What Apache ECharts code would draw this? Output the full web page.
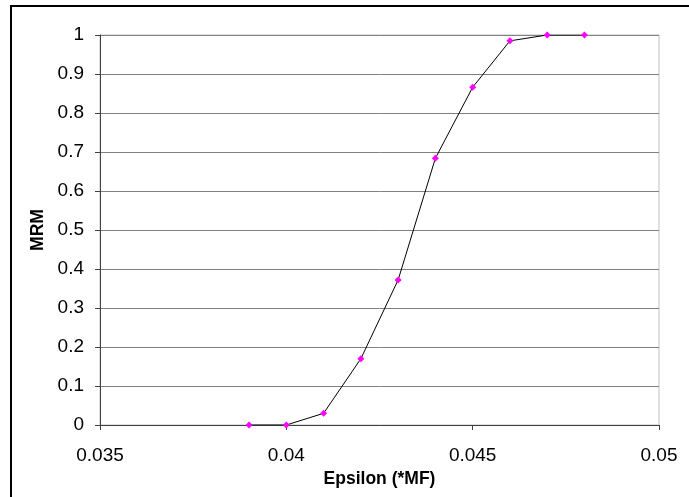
<!DOCTYPE html>
<html>
<head>
<meta charset="utf-8">
<script src="https://cdn.jsdelivr.net/npm/echarts@6/dist/echarts.min.js"></script>
<style>
  html, body { margin: 0; padding: 0; background: #fff; }
  #chart { width: 689px; height: 497px; }
</style>
</head>
<body>
<div id="chart"></div>
<script>
// Epsilon (*MF) values and the measured MRM at each one
const epsilon = [0.039, 0.040, 0.041, 0.042, 0.043, 0.044, 0.045, 0.046, 0.047, 0.048];
const mrm = [0, 0, 0.03, 0.17, 0.372, 0.684, 0.866, 0.985, 1, 1];

const xTicks = { min: 0.035, max: 0.05, step: 0.005 };
const yTicks = { min: 0, max: 1, step: 0.1 };

const points = epsilon.map((x, i) => [x, mrm[i]]);

const chart = echarts.init(document.getElementById('chart'), null, { renderer: 'canvas' });
const font = 'Arial, "Liberation Sans", sans-serif';

chart.setOption({
  animation: false,
  backgroundColor: '#ffffff',
  graphic: [{
    type: 'rect',
    shape: { x: 11, y: 6, width: 720, height: 560 },
    style: { fill: 'none', stroke: '#000', lineWidth: 2 },
    silent: true
  }],
  grid: {
    left: 100, top: 35, right: 30, bottom: 72,
    show: true, borderColor: '#c0c0c0', borderWidth: 1, backgroundColor: '#fff'
  },
  xAxis: {
    type: 'value',
    min: xTicks.min, max: xTicks.max, interval: xTicks.step,
    name: 'Epsilon (*MF)',
    nameLocation: 'middle',
    nameGap: 45,
    nameTextStyle: { fontFamily: font, fontWeight: 'bold', fontSize: 17.5, color: '#000' },
    axisLine: { show: true, lineStyle: { color: '#404040', width: 1 } },
    axisTick: { show: true, inside: false, length: 5, lineStyle: { color: '#404040' } },
    axisLabel: {
      margin: 21, fontFamily: font, fontSize: 19, color: '#000',
      formatter: v => String(+v.toFixed(3))
    },
    splitLine: { show: false }
  },
  yAxis: {
    type: 'value',
    min: yTicks.min, max: yTicks.max, interval: yTicks.step,
    name: 'MRM',
    nameLocation: 'middle',
    nameGap: 52,
    nameTextStyle: { fontFamily: font, fontWeight: 'bold', fontSize: 17.5, color: '#000' },
    axisLine: { show: true, lineStyle: { color: '#404040', width: 1 } },
    axisTick: { show: true, inside: false, length: 5, lineStyle: { color: '#404040' } },
    axisLabel: {
      margin: 16, fontFamily: font, fontSize: 19, color: '#000',
      formatter: v => String(+v.toFixed(1))
    },
    splitLine: { show: true, lineStyle: { color: '#808080', width: 1 } }
  },
  series: [{
    type: 'line',
    data: points,
    symbol: 'diamond',
    symbolSize: 7,
    itemStyle: { color: '#ff00ff' },
    lineStyle: { color: '#000', width: 1 },
    z: 5
  }]
});
</script>
</body>
</html>
